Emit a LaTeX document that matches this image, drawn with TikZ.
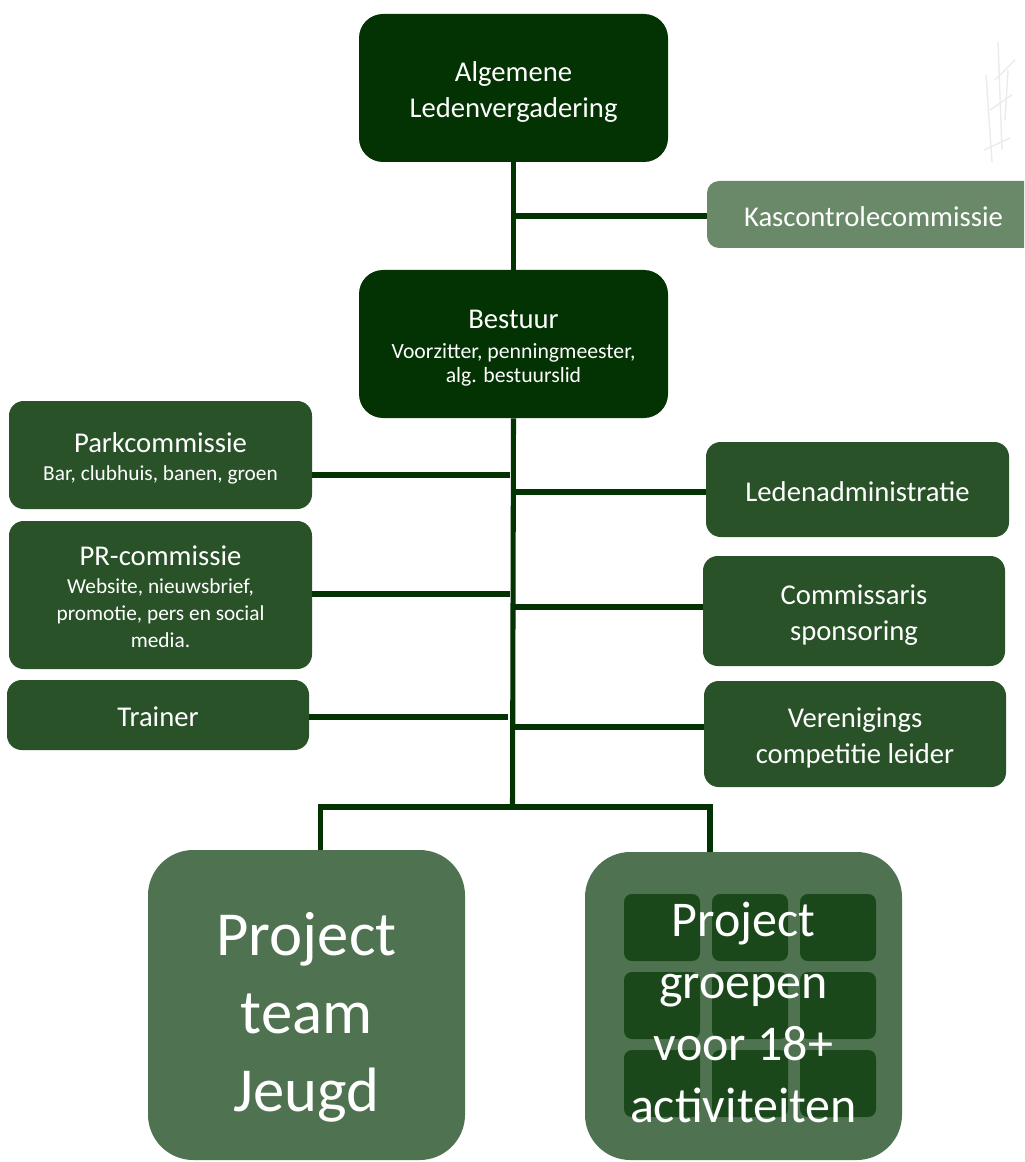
\documentclass[tikz,border=0pt]{standalone}
\usepackage{fontspec}
\setmainfont{Carlito}
\usetikzlibrary{calc}
\definecolor{topc}{HTML}{033203}
\definecolor{kasc}{HTML}{6A8968}
\definecolor{midc}{HTML}{2A5229}
\definecolor{bigc}{HTML}{4F7350}
\definecolor{gridc}{HTML}{1B481A}
\definecolor{linec}{HTML}{033203}
\newcommand{\hsz}{\fontsize{21.5}{27}\selectfont}
\newcommand{\tp}[1]{\rule{0pt}{#1}}
\newcommand{\bt}[1]{\rule[-#1]{0pt}{0pt}}
\begin{document}
\begin{tikzpicture}[x=0.75pt,y=-0.75pt,
  base/.style={rectangle, draw=none, align=center, text=white, inner sep=0pt},
  topbox/.style={base, fill=topc, rounded corners=18pt, minimum width=231.75pt, minimum height=111pt},
  midbox/.style={base, fill=midc, rounded corners=11pt},
  kbox/.style={base, fill=kasc, rounded corners=9pt},
  bigbox/.style={base, fill=bigc, rounded corners=34pt, minimum width=237.75pt},
  hfont/.style={font=\hsz},
  conn/.style={draw=linec, line width=3.8pt},
  wm/.style={draw=gray!16, line width=1pt, line cap=round}]
\clip (0,0) rectangle (1024,1162);
\fill[white] (0,0) rectangle (1024,1162);

% faint watermark scribble
\draw[wm] (998,42) -- (1002,150);
\draw[wm] (986,75) -- (992,162);
\draw[wm] (984,150) -- (1010,138);
\draw[wm] (990,110) -- (1012,95);
\draw[wm] (995,80) -- (1015,60);
\draw[wm] (1005,120) -- (1008,70);

% nodes
\node[topbox, font=\fontsize{21.5}{26.5}\selectfont] (alv) at (513.5,88) {\tp{23.5pt}Algemene\\Ledenvergadering\bt{6pt}};
\node[kbox, hfont, minimum width=249.75pt, minimum height=50.25pt] (kas) at (873.5,214.5) {\tp{23.5pt}Kascontrolecommissie\bt{6pt}};
\node[topbox, font=\fontsize{16.3}{18}\selectfont] (bestuur) at (513.5,344) {\tp{23.5pt}\hsz Bestuur\\[4.7pt]Voorzitter, penningmeester,\\alg. bestuurslid\bt{6pt}};

\node[midbox, font=\fontsize{16}{20}\selectfont, minimum width=227.25pt, minimum height=81pt] (park) at (160.5,455) {\tp{23.5pt}\hsz Parkcommissie\\[1.2pt]Bar, clubhuis, banen, groen\bt{6pt}};
\node[midbox, font=\fontsize{16}{20.25}\selectfont, minimum width=227.25pt, minimum height=111pt] (pr) at (160.5,595) {\tp{23.5pt}\hsz PR-commissie\\[0.3pt]Website, nieuwsbrief,\\promotie, pers en social\\media.\bt{6pt}};
\node[midbox, hfont, minimum width=226.5pt, minimum height=52.5pt] (trainer) at (158,715) {\tp{23.5pt}Trainer\bt{6pt}};

\node[midbox, hfont, minimum width=227.25pt, minimum height=71.25pt] (leden) at (857.5,489.5) {\tp{23.5pt}Ledenadministratie\bt{6pt}};
\node[midbox, hfont, minimum width=226.5pt, minimum height=82.5pt] (comm) at (854,611) {\tp{23.5pt}Commissaris\\sponsoring\bt{6pt}};
\node[midbox, hfont, minimum width=226.5pt, minimum height=79.5pt] (ver) at (855,734) {\tp{23.5pt}Verenigings\\competitie leider\bt{6pt}};

\node[bigbox, minimum height=232.5pt, font=\fontsize{47}{58.5}\selectfont] (jeugd) at (306.5,1005) {\tp{56pt}Project\\team\\Jeugd\bt{12.8pt}};
\node[bigbox, minimum height=231pt, font=\fontsize{37.5}{46.5}\selectfont,
  path picture={
    \foreach \i in {0,1,2} {
      \foreach \j in {0,1,2} {
        \fill[gridc, rounded corners=6pt]
          ($(path picture bounding box.center)+(-119.5+88*\i,-112+78*\j)$)
          rectangle ++(76,67);
      }
    }
  }] (groepen) at (743.5,1006) {\tp{37.5pt}Project\\groepen\\voor 18+\\activiteiten\bt{1.9pt}};

% connectors
\coordinate (kj) at (512.5,216);
\coordinate (bus) at (512.5,807);
\coordinate (pk) at (510,475);
\coordinate (pj) at (510,594);
\coordinate (tj) at (508,717);
\coordinate (lj) at (512.5,492);
\coordinate (cj) at (512.5,607);
\coordinate (vj) at (512.5,727);
\coordinate (bl) at (320.5,807);
\coordinate (br) at (710,807);

\draw[conn] (alv.south) -- (bestuur.north);
\draw[conn] (kj) -- (kj -| kas.west);
\draw[conn] (bestuur.south) -- (bus);
\draw[conn] (pk -| park.east) -- (pk);
\draw[conn] (pj -| pr.east) -- (pj);
\draw[conn] (tj -| trainer.east) -- (tj);
\draw[conn] (lj) -- (lj -| leden.west);
\draw[conn] (cj) -- (cj -| comm.west);
\draw[conn] (vj) -- (vj -| ver.west);
\draw[conn] ([xshift=-1.9pt]bl) -- ([xshift=1.9pt]br);
\draw[conn] (bl) -- (bl |- jeugd.north);
\draw[conn] (br) -- (br |- groepen.north);
\end{tikzpicture}
\end{document}
